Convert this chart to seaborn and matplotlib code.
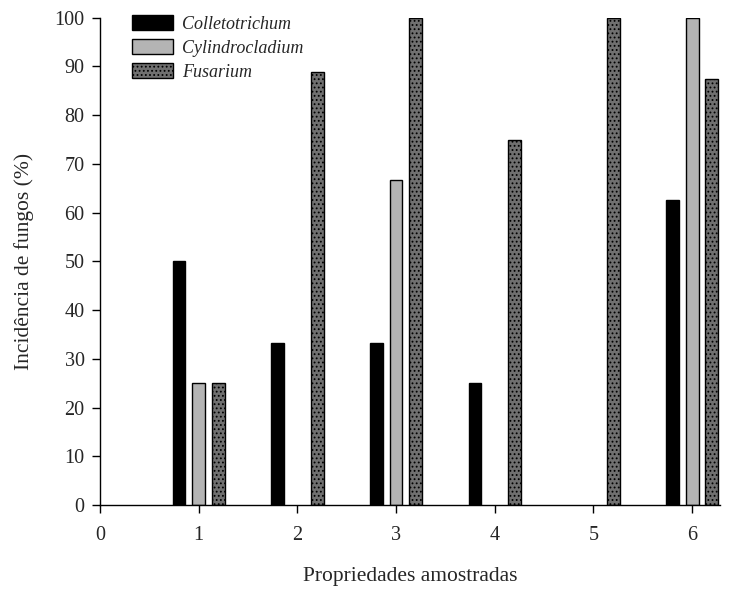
import matplotlib
matplotlib.use("Agg")
import matplotlib.pyplot as plt
import seaborn as sns
import pandas as pd
import numpy as np

propriedades = [1, 2, 3, 4, 5, 6]
colletotrichum = [50, 33.3, 33.3, 25, 0, 62.5]
cylindrocladium = [25, 0, 66.7, 0, 0, 100]
fusarium = [25, 88.9, 100, 75, 100, 87.5]
fungos = ["Colletotrichum", "Cylindrocladium", "Fusarium"]

rows = []
for name, vals in zip(fungos, [colletotrichum, cylindrocladium, fusarium]):
    for p, v in zip(propriedades, vals):
        rows.append({"prop": p, "val": v, "fungo": name})
df = pd.DataFrame(rows)

sns.set_theme(style="ticks")
plt.rcParams["font.family"] = ["Liberation Serif", "DejaVu Serif"]
plt.rcParams["hatch.color"] = "black"
plt.rcParams["hatch.linewidth"] = 0.8

fig = plt.figure(figsize=(7.3, 5.92), dpi=100)
ax = fig.add_axes([0.137, 0.147, 0.849, 0.823])

colors = {"Colletotrichum": "#000000", "Cylindrocladium": "#b4b4b4", "Fusarium": "#707070"}
sns.barplot(data=df, x="prop", y="val", hue="fungo", hue_order=fungos,
            palette=colors, native_scale=True, width=0.6, gap=0.35,
            edgecolor="black", linewidth=1.0, saturation=1, ax=ax, legend=True)

n = len(propriedades)
for i, patch in enumerate(ax.patches[:3 * n]):
    if i >= 2 * n:
        patch.set_hatch("....")
    if patch.get_height() == 0:
        patch.set_visible(False)

ax.set_xlim(0, 6.28)
ax.set_ylim(0, 100)
ax.set_xticks(range(0, 7))
ax.set_xticklabels([str(i) for i in range(0, 7)])
ax.set_yticks(range(0, 101, 10))
ax.tick_params(axis="both", labelsize=14.5, length=6, width=1, color="black", direction="out")
ax.tick_params(axis="x", pad=9)
ax.tick_params(axis="y", pad=5)
for s in ["top", "right"]:
    ax.spines[s].set_visible(False)
for s in ["left", "bottom"]:
    ax.spines[s].set_color("black")
    ax.spines[s].set_linewidth(1)

ax.set_xlabel("Propriedades amostradas", fontsize=15.5, labelpad=16)
ax.set_ylabel("Incidência de fungos (%)", fontsize=15.5, labelpad=15)

handles, labels = ax.get_legend_handles_labels()
for h in handles[2:3]:
    h.set_hatch("....")
leg = ax.legend(handles, labels, loc="upper left", bbox_to_anchor=(0.031, 1.031),
                frameon=False, prop={"style": "italic", "size": 13},
                handlelength=2.3, handleheight=0.9, handletextpad=0.5,
                labelspacing=0.35, borderpad=0.2)

fig.savefig("out.png", dpi=100)
